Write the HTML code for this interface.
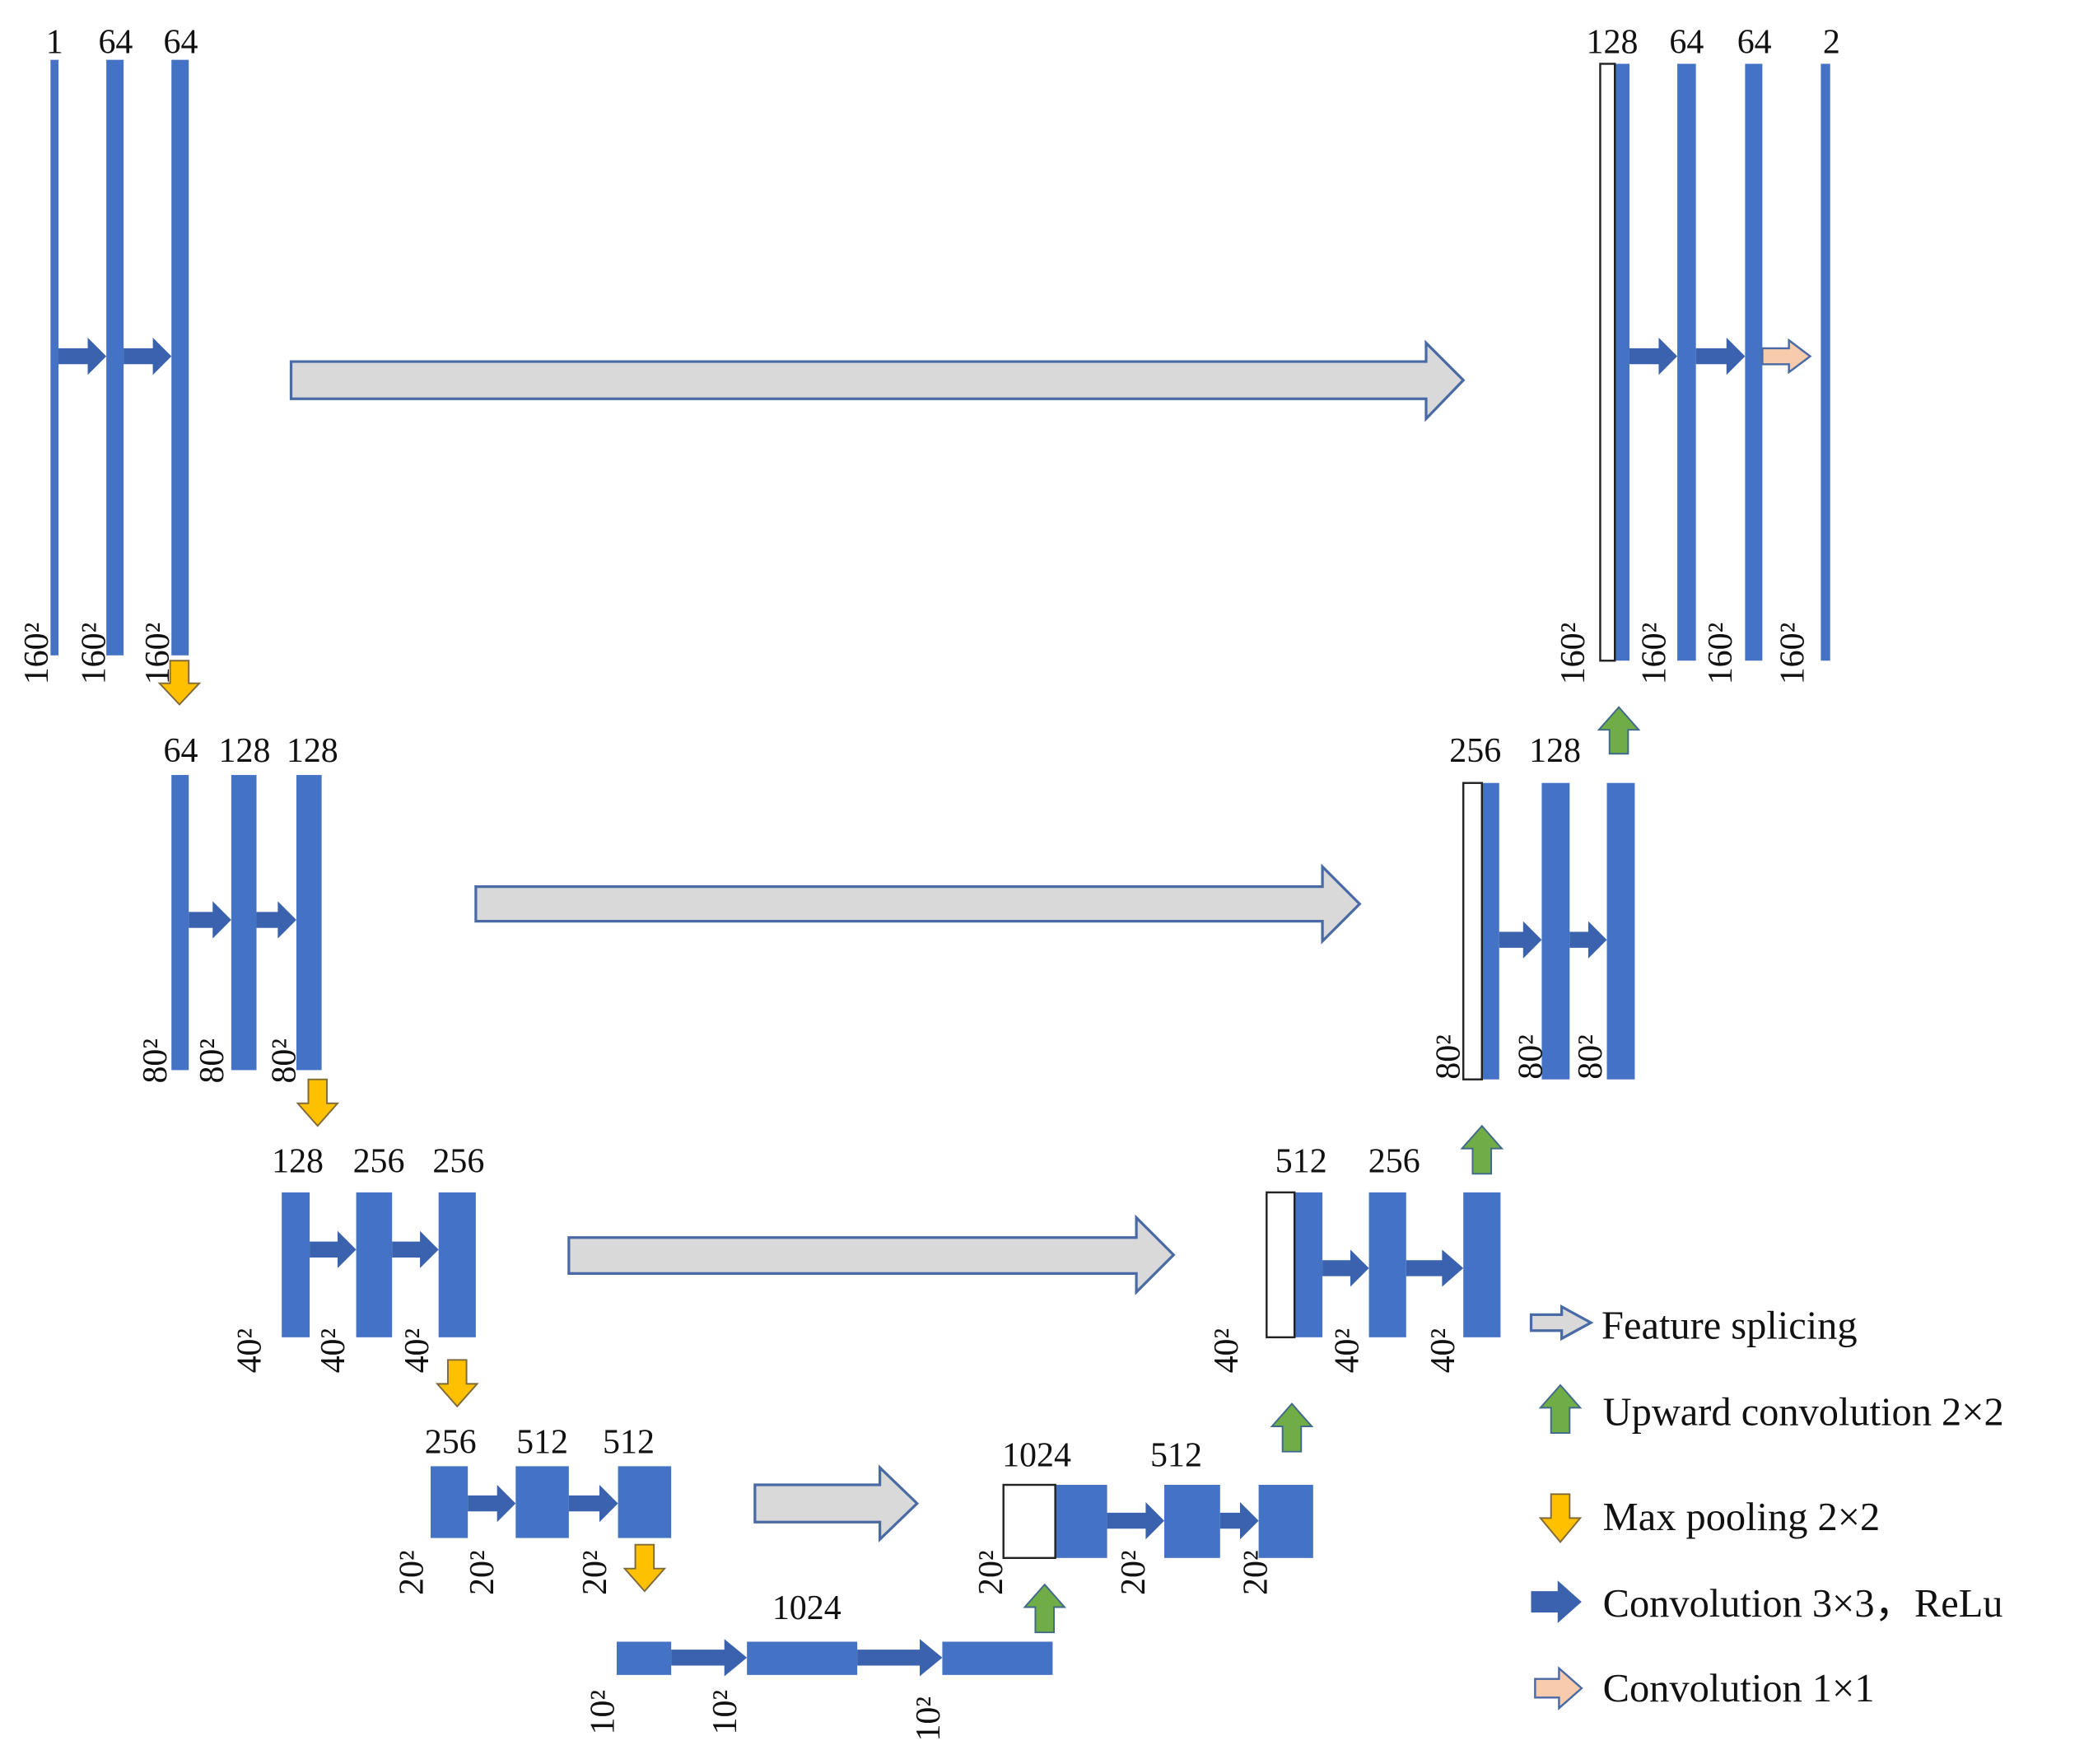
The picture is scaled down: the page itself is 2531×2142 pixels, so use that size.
<!DOCTYPE html>
<html><head><meta charset="utf-8"><style>
html,body{margin:0;padding:0;background:#fff;}
svg{display:block;}
text{font-family:"Liberation Serif",serif;fill:#111;}
.l{font-size:26px;text-anchor:middle;}
.r{font-size:26px;}
.g{font-size:30px;}
</style></head><body>
<svg width="2531" height="2142" viewBox="0 0 1568 1327" xmlns="http://www.w3.org/2000/svg">
<rect width="1568" height="1327" fill="#fff"/>
<g fill="#4472C4">
<!-- row1 -->
<rect x="38" y="45" width="6" height="448"/><rect x="80" y="45" width="13" height="448"/><rect x="129" y="45" width="13" height="448"/>
<!-- row2 -->
<rect x="129" y="583" width="13" height="222"/><rect x="174" y="583" width="19" height="222"/><rect x="223" y="583" width="19" height="222"/>
<!-- row3 -->
<rect x="212" y="897" width="21" height="109"/><rect x="268" y="897" width="27" height="109"/><rect x="330" y="897" width="28" height="109"/>
<!-- row4 -->
<rect x="324" y="1103" width="28" height="54"/><rect x="388" y="1103" width="40" height="54"/><rect x="465" y="1103" width="40" height="54"/>
<!-- bottom -->
<rect x="464" y="1235" width="41" height="25"/><rect x="562" y="1235" width="83" height="25"/><rect x="709" y="1235" width="83" height="25"/>
<!-- up4 -->
<rect x="794" y="1117" width="39" height="55"/><rect x="876" y="1117" width="42" height="55"/><rect x="947" y="1117" width="41" height="55"/>
<!-- up3 -->
<rect x="974" y="897" width="21" height="109"/><rect x="1030" y="897" width="28" height="109"/><rect x="1101" y="897" width="28" height="109"/>
<!-- up2 -->
<rect x="1115" y="589" width="13" height="223"/><rect x="1160" y="589" width="21" height="223"/><rect x="1209" y="589" width="21" height="223"/>
<!-- up1 -->
<rect x="1215" y="48" width="11" height="449"/><rect x="1262" y="48" width="14" height="449"/><rect x="1313" y="48" width="13" height="449"/><rect x="1370" y="48" width="7" height="449"/>
</g>
<g fill="#fff" stroke="#222" stroke-width="1.5">
<rect x="755" y="1117" width="39" height="55"/>
<rect x="953" y="897" width="21" height="109"/>
<rect x="1101" y="589" width="14" height="223"/>
<rect x="1204" y="48" width="11" height="449"/>
</g>
<!-- gray splicing arrows -->
<g fill="#D9D9D9" stroke="#4A6AA5" stroke-width="2">
<polygon points="219,272 1073,272 1073,258 1101,286 1073,315 1073,300 219,300"/>
<polygon points="358,667 995,667 995,652 1023,680 995,708 995,693 358,693"/>
<polygon points="428,931 855,931 855,916 883,944 855,972 855,958 428,958"/>
<polygon points="568,1117 662,1117 662,1104 690,1131 662,1158 662,1145 568,1145"/>
<polygon points="1152,989 1175,989 1175,983 1197,995 1175,1007 1175,1001 1152,1001"/>
</g>
<!-- conv arrows -->
<g fill="#3A62AE">
<polygon points="44,262 66,262 66,254 80,268 66,282 66,274 44,274"/>
<polygon points="93,262 115,262 115,254 129,268 115,282 115,274 93,274"/>
<polygon points="142,686 160,686 160,678 174,692 160,706 160,698 142,698"/>
<polygon points="193,686 209,686 209,678 223,692 209,706 209,698 193,698"/>
<polygon points="233,934 254,934 254,926 268,940 254,954 254,946 233,946"/>
<polygon points="295,934 316,934 316,926 330,940 316,954 316,946 295,946"/>
<polygon points="352,1125 374,1125 374,1117 388,1131 374,1145 374,1137 352,1137"/>
<polygon points="428,1125 451,1125 451,1117 465,1131 451,1145 451,1137 428,1137"/>
<polygon points="505,1241 545,1241 545,1233 562,1247 545,1261 545,1253 505,1253"/>
<polygon points="645,1241 692,1241 692,1233 709,1247 692,1261 692,1253 645,1253"/>
<polygon points="833,1138 862,1138 862,1130 876,1144 862,1158 862,1150 833,1150"/>
<polygon points="918,1138 933,1138 933,1130 947,1144 933,1158 933,1150 918,1150"/>
<polygon points="995,948 1016,948 1016,940 1030,954 1016,968 1016,960 995,960"/>
<polygon points="1058,948 1085,948 1085,940 1101,954 1085,968 1085,960 1058,960"/>
<polygon points="1128,701 1146,701 1146,693 1160,707 1146,721 1146,713 1128,713"/>
<polygon points="1181,701 1195,701 1195,693 1209,707 1195,721 1195,713 1181,713"/>
<polygon points="1226,262 1248,262 1248,254 1262,268 1248,282 1248,274 1226,274"/>
<polygon points="1276,262 1299,262 1299,254 1313,268 1299,282 1299,274 1276,274"/>
<polygon points="1152,1197 1172,1197 1172,1189 1190,1205 1172,1221 1172,1213 1152,1213"/>
</g>
<g fill="#F8CBAD" stroke="#4A6AA5" stroke-width="1.5">
<polygon points="1326,262 1346,262 1346,256 1362,268 1346,280 1346,274 1326,274"/>
<polygon points="1155,1263 1173,1263 1173,1255 1190,1270 1173,1285 1173,1277 1155,1277"/>
</g>
<!-- yellow down -->
<g fill="#FFC000" stroke="#7F6A3A" stroke-width="1.2">
<polygon points="128,497 142,497 142,514 150,514 135,530 120,514 128,514"/>
<polygon points="232,812 246,812 246,830 254,830 239,847 224,830 232,830"/>
<polygon points="337,1023 351,1023 351,1041 359,1041 344,1058 329,1041 337,1041"/>
<polygon points="478,1162 492,1162 492,1180 500,1180 485,1197 470,1180 478,1180"/>
<polygon points="1167,1124 1181,1124 1181,1142 1189,1142 1174,1160 1159,1142 1167,1142"/>
</g>
<!-- green up -->
<g fill="#70AD47" stroke="#3F6A8A" stroke-width="1.2">
<polygon points="779,1228 793,1228 793,1209 801,1209 786,1192 771,1209 779,1209"/>
<polygon points="965,1092 979,1092 979,1073 987,1073 972,1056 957,1073 965,1073"/>
<polygon points="1108,883 1122,883 1122,864 1130,864 1115,847 1100,864 1108,864"/>
<polygon points="1211,567 1225,567 1225,549 1233,549 1218,532 1203,549 1211,549"/>
<polygon points="1167,1078 1181,1078 1181,1059 1189,1059 1174,1042 1159,1059 1167,1059"/>
</g>
<!-- top labels -->
<text class="l" x="41" y="40">1</text><text class="l" x="87" y="40">64</text><text class="l" x="136" y="40">64</text>
<text class="l" x="136" y="573">64</text><text class="l" x="184" y="573">128</text><text class="l" x="235" y="573">128</text>
<text class="l" x="224" y="882">128</text><text class="l" x="285" y="882">256</text><text class="l" x="345" y="882">256</text>
<text class="l" x="339" y="1093">256</text><text class="l" x="408" y="1093">512</text><text class="l" x="473" y="1093">512</text>
<text class="l" x="607" y="1218">1024</text>
<text class="l" x="780" y="1103">1024</text><text class="l" x="885" y="1103">512</text>
<text class="l" x="979" y="882">512</text><text class="l" x="1049" y="882">256</text>
<text class="l" x="1110" y="573">256</text><text class="l" x="1170" y="573">128</text>
<text class="l" x="1213" y="40">128</text><text class="l" x="1269" y="40">64</text><text class="l" x="1320" y="40">64</text><text class="l" x="1378" y="40">2</text>
<!-- rotated labels -->
<g class="r">
<text transform="translate(36,515) rotate(-90)">160²</text>
<text transform="translate(79,515) rotate(-90)">160²</text>
<text transform="translate(127,515) rotate(-90)">160²</text>
<text transform="translate(125,815) rotate(-90)">80²</text>
<text transform="translate(168,815) rotate(-90)">80²</text>
<text transform="translate(222,815) rotate(-90)">80²</text>
<text transform="translate(196,1033) rotate(-90)">40²</text>
<text transform="translate(259,1033) rotate(-90)">40²</text>
<text transform="translate(322,1033) rotate(-90)">40²</text>
<text transform="translate(318,1200) rotate(-90)">20²</text>
<text transform="translate(371,1200) rotate(-90)">20²</text>
<text transform="translate(456,1200) rotate(-90)">20²</text>
<text transform="translate(462,1305) rotate(-90)">10²</text>
<text transform="translate(554,1305) rotate(-90)">10²</text>
<text transform="translate(707,1310) rotate(-90)">10²</text>
<text transform="translate(754,1200) rotate(-90)">20²</text>
<text transform="translate(861,1200) rotate(-90)">20²</text>
<text transform="translate(953,1200) rotate(-90)">20²</text>
<text transform="translate(931,1033) rotate(-90)">40²</text>
<text transform="translate(1022,1033) rotate(-90)">40²</text>
<text transform="translate(1094,1033) rotate(-90)">40²</text>
<text transform="translate(1098,812) rotate(-90)">80²</text>
<text transform="translate(1160,812) rotate(-90)">80²</text>
<text transform="translate(1205,812) rotate(-90)">80²</text>
<text transform="translate(1192,515) rotate(-90)">160²</text>
<text transform="translate(1253,515) rotate(-90)">160²</text>
<text transform="translate(1303,515) rotate(-90)">160²</text>
<text transform="translate(1357,515) rotate(-90)">160²</text>
</g>
<!-- legend -->
<text class="g" x="1205" y="1007">Feature splicing</text>
<text class="g" x="1206" y="1072">Upward convolution 2×2</text>
<text class="g" x="1206" y="1151">Max pooling 2×2</text>
<text class="g" x="1206" y="1216">Convolution 3×3，ReLu</text>
<text class="g" x="1206" y="1280">Convolution 1×1</text>
</svg>
</body></html>
